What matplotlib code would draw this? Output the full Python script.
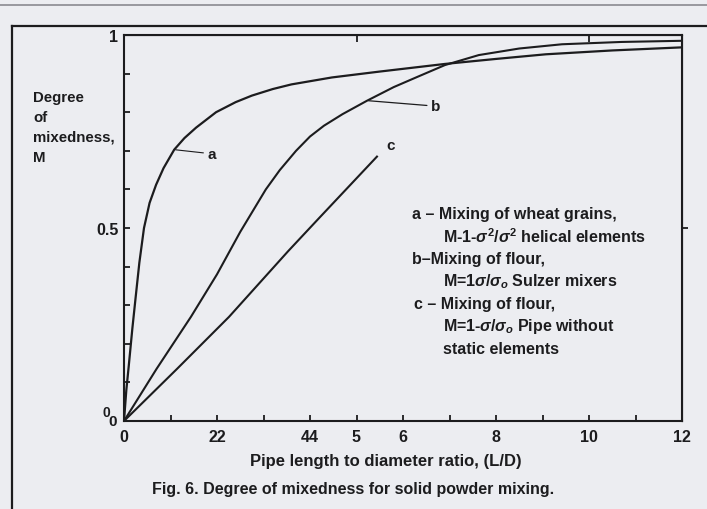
import numpy as np
import matplotlib.pyplot as plt
from matplotlib.lines import Line2D

plt.rcParams['font.family'] = ['Liberation Sans', 'DejaVu Sans']
plt.rcParams['mathtext.fontset'] = 'custom'
plt.rcParams['mathtext.rm'] = 'Liberation Sans:bold'
plt.rcParams['mathtext.it'] = 'Liberation Sans:italic:bold'

# curve values (L/D, degree of mixedness M)
a_x = [0, 0.05, 0.1, 0.18, 0.25, 0.33, 0.43, 0.55, 0.69, 0.85, 1.08, 1.3, 1.55, 1.98, 2.4,
       2.75, 3.2, 3.6, 4.47, 5.48, 6.9, 8.0, 9.07, 10.5, 12]
a_y = [0, 0.08, 0.14, 0.24, 0.32, 0.41, 0.5, 0.565, 0.612, 0.655, 0.703, 0.733, 0.76, 0.8, 0.826,
       0.843, 0.86, 0.872, 0.89, 0.905, 0.925, 0.938, 0.95, 0.96, 0.968]

b_x = [0, 0.7, 1.44, 2.0, 2.5, 3.05, 3.35, 3.7, 4.0, 4.3, 4.7, 5.23, 5.8, 6.28, 6.9, 7.63,
       8.5, 9.42, 10.7, 12]
b_y = [0, 0.135, 0.27, 0.38, 0.49, 0.6, 0.65, 0.7, 0.737, 0.765, 0.795, 0.83, 0.865, 0.89,
       0.922, 0.948, 0.965, 0.976, 0.982, 0.985]

c_x = [0, 1.14, 2.26, 3.53, 4.19, 5.44]
c_y = [0, 0.135, 0.27, 0.44, 0.525, 0.685]

x_ticks = list(range(13))
x_labels = ['0', '', '22', '', '44', '5', '6', '', '8', '', '10', '', '12']
y_ticks = [round(v, 1) for v in np.arange(0, 1.01, 0.1)]
y_labels = ['', '', '', '', '', '0.5', '', '', '', '', '1']

legend_lines = [
    ('a \u2013 Mixing of wheat grains,', 412),
    (r'M-1-$\sigma^2/\sigma^2$ helical elements', 443),
    ('b\u2013Mixing of flour,', 412),
    (r'M=1$\sigma/\sigma_o$ Sulzer mixers', 443),
    ('c \u2013 Mixing of flour,', 414),
    (r'M=1-$\sigma/\sigma_o$ Pipe without', 443),
    ('static elements', 443),
]
legend_y = [215, 237, 260, 282, 305, 327, 349]

W, H = 707, 510
bg = '#ecedf1'
ink = '#1c1c1e'


def px(x, y):
    return x / W, 1 - y / H


fig = plt.figure(figsize=(W / 100, H / 100), dpi=100, facecolor=bg)
ax = fig.add_axes([124 / W, 1 - 422 / H, (682 - 124) / W, (422 - 36) / H])
ax.set_facecolor(bg)

ax.plot(a_x, a_y, color=ink, lw=1.6, solid_joinstyle='round')
ax.plot(b_x, b_y, color=ink, lw=1.5, solid_joinstyle='round')
ax.plot(c_x, c_y, color=ink, lw=1.5, solid_joinstyle='round')

ax.set_xlim(0, 12)
ax.set_ylim(0, 1)
ax.set_xticks(x_ticks)
ax.set_xticklabels(x_labels)
ax.set_yticks(y_ticks)
ax.set_yticklabels(y_labels)
ax.tick_params(axis='both', direction='in', length=4, width=1.3, color=ink,
               labelcolor=ink, labelsize=11.5)
ax.tick_params(axis='x', pad=6)
ax.tick_params(axis='y', pad=4)
for lab in ax.get_xticklabels() + ax.get_yticklabels():
    lab.set_fontweight('bold')
for s in ax.spines.values():
    s.set_linewidth(1.5)
    s.set_color(ink)

top = ax.secondary_xaxis('top')
top.set_xticks([5, 10])
top.set_xticklabels(['', ''])
top.tick_params(direction='in', length=5, width=1.3, color=ink)
right = ax.secondary_yaxis('right')
right.set_yticks([0.5])
right.set_yticklabels([''])
right.tick_params(direction='out', length=4, width=1.3, color=ink)

# curve labels
ax.annotate('a', xy=(a_x[10], a_y[10]), xytext=(24, -3), textcoords='offset points',
            ha='left', va='center', fontsize=11, fontweight='bold', color=ink,
            arrowprops=dict(arrowstyle='-', lw=0.8, color=ink, shrinkA=1, shrinkB=1))
ax.annotate('b', xy=(b_x[11], b_y[11]), xytext=(46, -4), textcoords='offset points',
            ha='left', va='center', fontsize=11, fontweight='bold', color=ink,
            arrowprops=dict(arrowstyle='-', lw=0.9, color=ink, shrinkA=1, shrinkB=1))
ax.annotate('c', xy=(c_x[-1], c_y[-1]), xytext=(7, 8), textcoords='offset points',
            ha='left', va='center', fontsize=11, fontweight='bold', color=ink)

# origin zeros
fig.text(*px(113, 422), '0', ha='center', va='center', fontsize=11,
         fontweight='bold', color=ink)
fig.text(*px(106, 413), '0', ha='center', va='center', fontsize=10,
         fontweight='bold', color=ink)

# y axis caption
for txt, yy in zip(['Degree', 'of', 'mixedness,', 'M'], [98, 118, 138, 158]):
    fig.text(*px(33, yy), txt, ha='left', va='center', fontsize=10.8,
             fontweight='bold', color=ink)

# legend text block
for (txt, xx), yy in zip(legend_lines, legend_y):
    fig.text(*px(xx, yy), txt, ha='left', va='center', fontsize=11.5,
             fontweight='bold', color=ink)

fig.text(*px(386, 462), 'Pipe length to diameter ratio, (L/D)', ha='center',
         va='center', fontsize=12, fontweight='bold', color=ink)
fig.text(*px(152, 490), 'Fig. 6. Degree of mixedness for solid powder mixing.',
         ha='left', va='center', fontsize=11.5, fontweight='bold', color=ink)

# page frame from the scan
fig.add_artist(Line2D([0, 1], [px(0, 6)[1]] * 2, transform=fig.transFigure,
                      color='#8a8a90', lw=1.2))
fig.add_artist(Line2D([12 / W, 1], [px(0, 27)[1]] * 2, transform=fig.transFigure,
                      color=ink, lw=1.6))
fig.add_artist(Line2D([12 / W] * 2, [px(0, 27)[1], 0], transform=fig.transFigure,
                      color=ink, lw=1.6))

fig.savefig('out.png', dpi=100, facecolor=bg)
